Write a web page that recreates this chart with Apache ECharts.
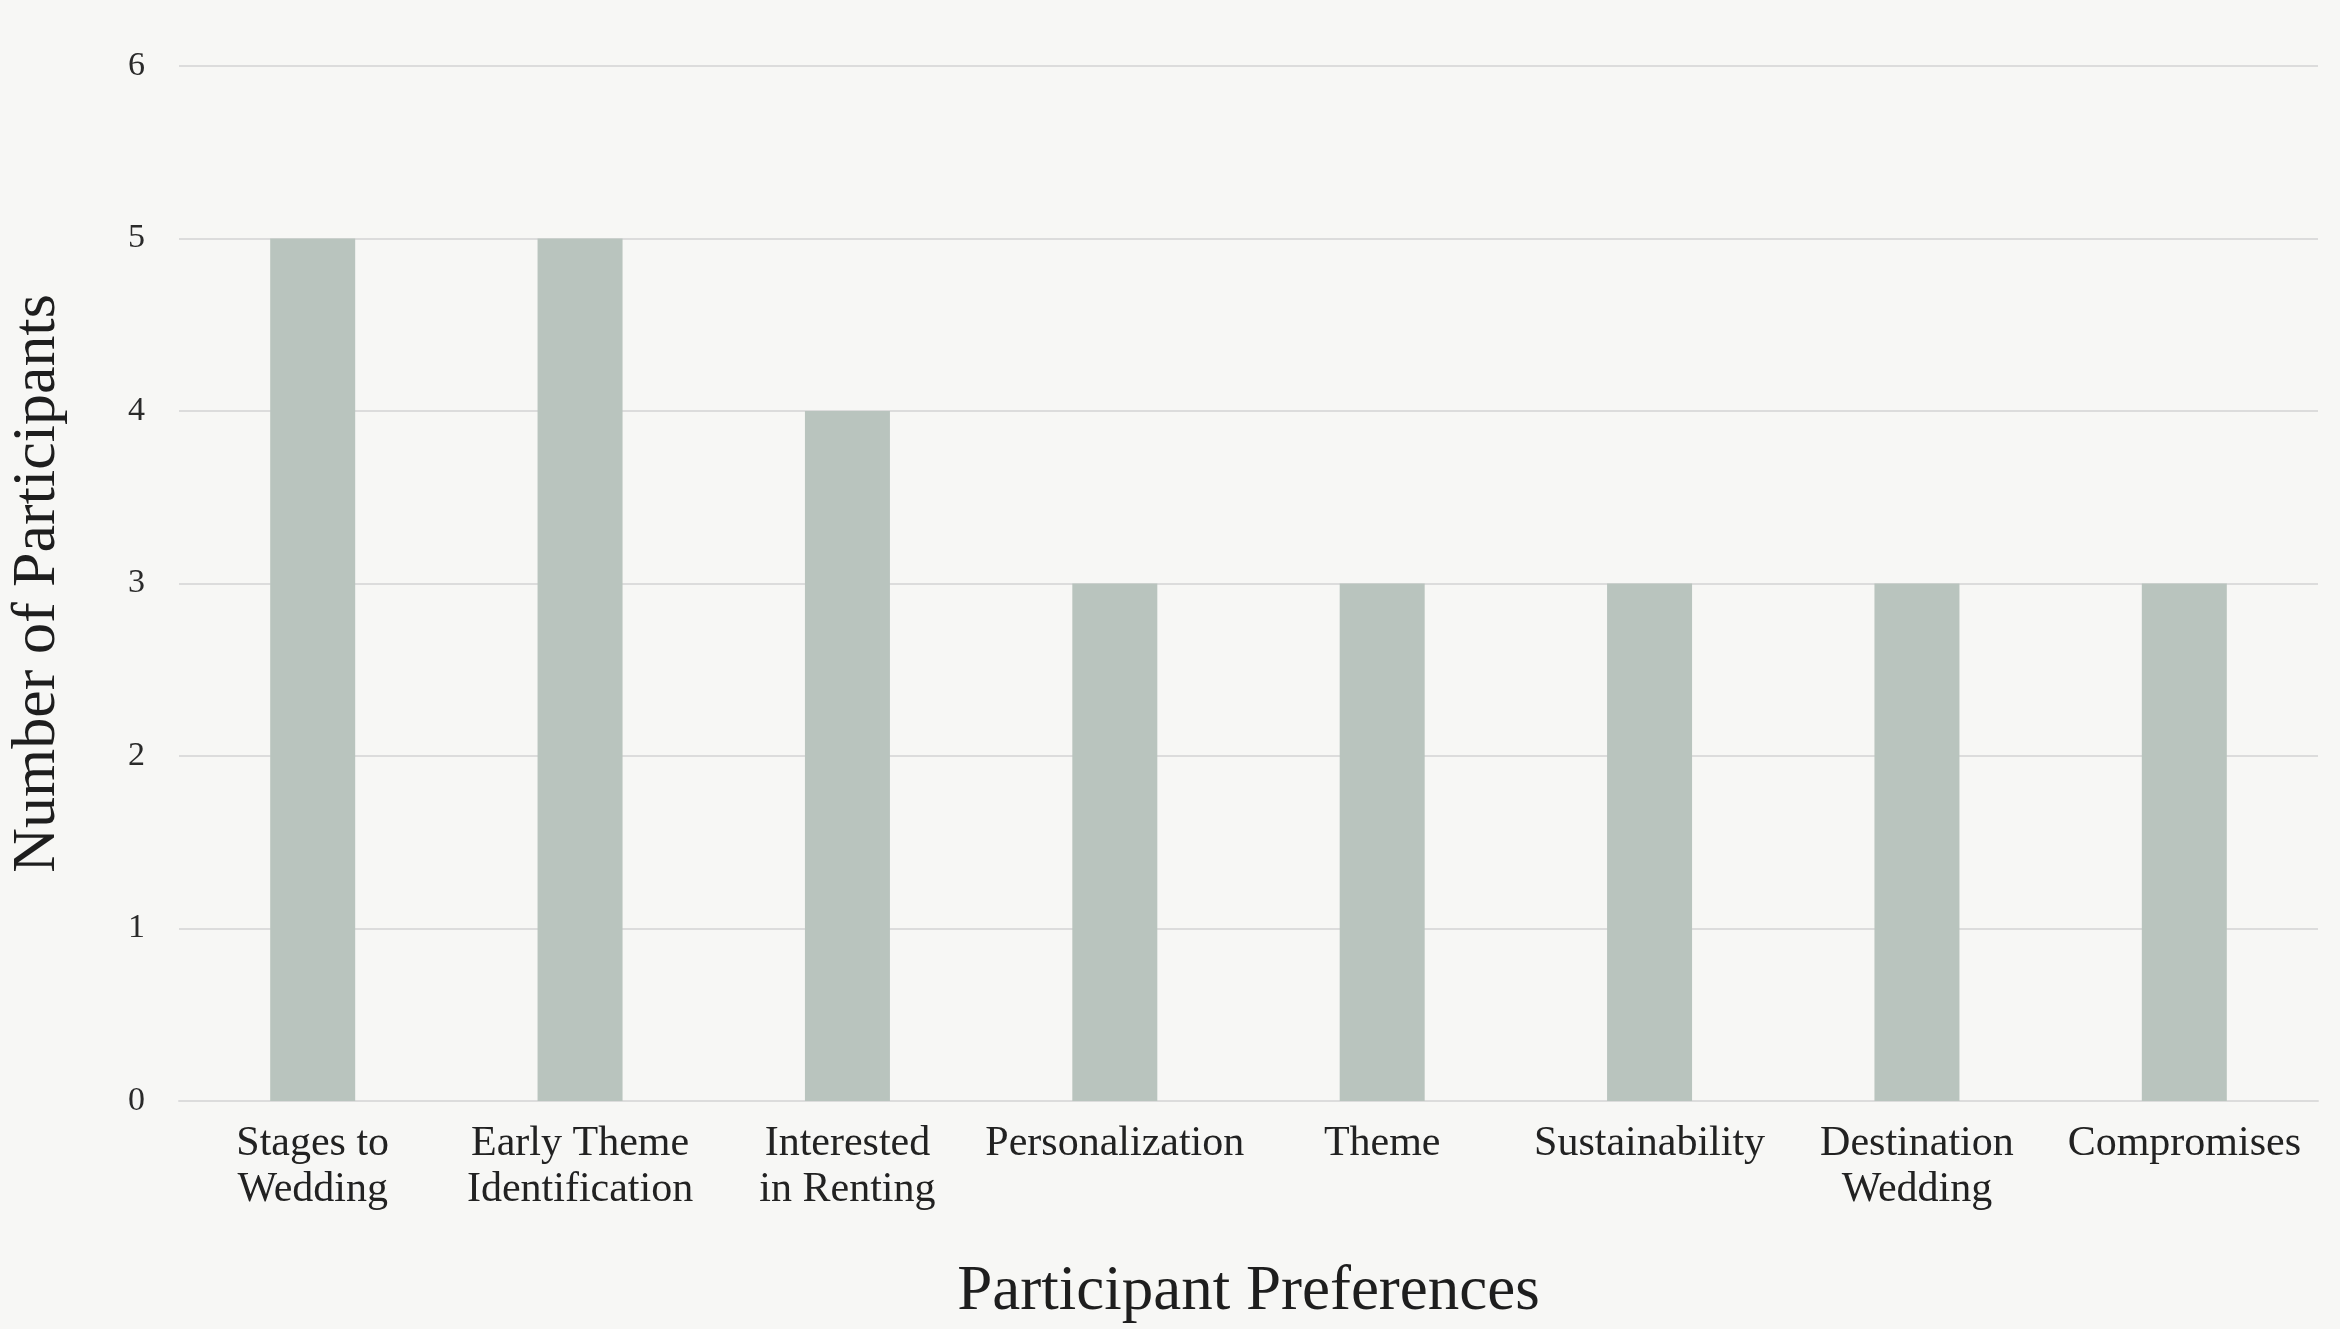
<!DOCTYPE html>
<html>
<head>
<meta charset="utf-8">
<script src="https://cdn.jsdelivr.net/npm/echarts@6/dist/echarts.min.js"></script>
<style>
html,body{margin:0;padding:0;background:#f7f7f5;}
#chart{width:2340px;height:1329px;}
</style>
</head>
<body>
<div id="chart"></div>
<script>
const categories = [
  "Stages to\nWedding",
  "Early Theme\nIdentification",
  "Interested\nin Renting",
  "Personalization",
  "Theme",
  "Sustainability",
  "Destination\nWedding",
  "Compromises"
];
const participants = [5, 5, 4, 3, 3, 3, 3, 3];
const yTicks = [0, 1, 2, 3, 4, 5, 6];
const xTitle = "Participant Preferences";
const yTitle = "Number of Participants";

const FONT = "'Liberation Serif', 'DejaVu Serif', serif";
const chart = echarts.init(document.getElementById('chart'));
chart.setOption({
  backgroundColor: '#f7f7f5',
  animation: false,
  grid: { left: 179, right: 22, top: 66, bottom: 228, containLabel: false, outerBoundsMode: 'none' },
  xAxis: {
    type: 'category',
    data: categories,
    name: xTitle,
    nameLocation: 'middle',
    nameGap: 160,
    nameTextStyle: { fontFamily: FONT, fontSize: 63, color: '#1e1e1e' },
    axisLine: { show: true, lineStyle: { color: '#dcdcdc', width: 2 } },
    axisTick: { show: false },
    axisLabel: {
      interval: 0, margin: 20,
      fontFamily: FONT, fontSize: 42, lineHeight: 46, color: '#222'
    }
  },
  yAxis: {
    type: 'value',
    min: yTicks[0], max: yTicks[yTicks.length - 1], interval: 1,
    name: yTitle,
    nameLocation: 'middle',
    nameGap: 110,
    nameTextStyle: { fontFamily: FONT, fontSize: 62, color: '#1e1e1e' },
    axisLine: { show: false },
    axisTick: { show: false },
    axisLabel: { margin: 34, fontFamily: FONT, fontSize: 34, color: '#2a2a2a' },
    splitLine: { show: true, lineStyle: { color: '#dcdcdc', width: 2 } }
  },
  series: [{
    type: 'bar',
    data: participants,
    barWidth: 85,
    itemStyle: { color: '#b9c4be' }
  }]
});
</script>
</body>
</html>
